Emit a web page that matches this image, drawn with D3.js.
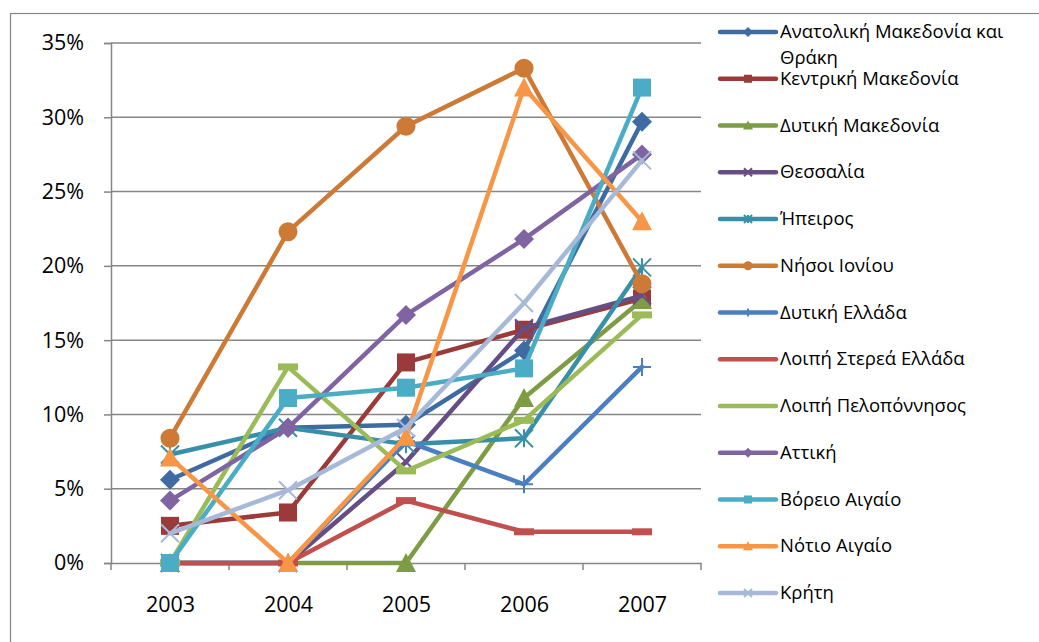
<!DOCTYPE html>
<html><head><meta charset="utf-8">
<script src="https://cdn.jsdelivr.net/npm/d3@7"></script>
<style>
body{margin:0;background:#fff;}
svg{display:block;font-family:"Open Sans","Liberation Sans",sans-serif;}
</style></head>
<body><svg id="c" width="1039" height="642"></svg>
<script>
const years = ["2003","2004","2005","2006","2007"];
const seriesNames = ["Ανατολική Μακεδονία και Θράκη","Κεντρική Μακεδονία","Δυτική Μακεδονία","Θεσσαλία","Ήπειρος","Νήσοι Ιονίου","Δυτική Ελλάδα","Λοιπή Στερεά Ελλάδα","Λοιπή Πελοπόννησος","Αττική","Βόρειο Αιγαίο","Νότιο Αιγαίο","Κρήτη"];
const amthValues = [0.056,0.091,0.093,0.143,0.297];
const kmakValues = [0.025,0.034,0.135,0.157,0.178];
const dmakValues = [0.0,0.0,0.0,0.111,0.177];
const thesValues = [0.0,0.0,0.068,0.158,0.180];
const ipeValues  = [0.073,0.091,0.080,0.084,0.199];
const ionValues  = [0.084,0.223,0.294,0.333,0.188];
const delValues  = [0.0,0.0,0.082,0.053,0.132];
const lstValues  = [0.0,0.0,0.042,0.021,0.021];
const lpelValues = [0.0,0.132,0.062,0.096,0.167];
const attValues  = [0.042,0.091,0.167,0.218,0.275];
const vaiValues  = [0.0,0.111,0.118,0.131,0.320];
const naiValues  = [0.071,0.0,0.085,0.320,0.230];
const kriValues  = [0.020,0.049,0.091,0.175,0.271];
const yTicks = [0,0.05,0.10,0.15,0.20,0.25,0.30,0.35];

const allValues = [amthValues,kmakValues,dmakValues,thesValues,ipeValues,ionValues,delValues,lstValues,lpelValues,attValues,vaiValues,naiValues,kriValues];
const colors = ["#3D6BA2","#9B3B39","#7E9C43","#664E84","#3790A7","#CC7A36","#4A7FC1","#C0504D","#9BBB59","#8064A2","#4BACC6","#F79646","#A7B9D8"];
const markers = ["diamond","square","triangle","x","star","circle","plus","dash","dash","diamond","square","triangle","x"];

const svg = d3.select("#c");
svg.append("rect").attr("x",10.5).attr("y",13.5).attr("width",1040).attr("height",640)
  .attr("fill","none").attr("stroke","#868686").attr("stroke-width",1.2);

const pL=111,pR=701,pT=43,pB=563;
const xb = d3.scaleBand().domain(years).range([pL,pR]).paddingInner(0).paddingOuter(0);
const x = d3.scalePoint().domain(years).range([pL,pR]).padding(0.5);
const y = d3.scaleLinear().domain([0,0.35]).range([pB,pT]);

svg.append("g").selectAll("line").data(yTicks.slice(1)).join("line")
  .attr("x1",pL).attr("x2",pR).attr("y1",d=>y(d)).attr("y2",d=>y(d))
  .attr("stroke","#868686").attr("stroke-width",1.5);

const ya = svg.append("g").attr("transform",`translate(${pL},0)`)
  .call(d3.axisLeft(y).tickValues(yTicks).tickFormat(d3.format(".0%")).tickSize(7).tickPadding(20));
ya.select(".domain").attr("stroke","#868686").attr("stroke-width",1.5);
ya.selectAll(".tick line").attr("stroke","#868686").attr("stroke-width",1.5);
ya.selectAll("text").attr("font-size",21.5).attr("fill","#000").attr("font-family","Open Sans, sans-serif");

const xa = svg.append("g").attr("transform",`translate(0,${pB})`)
  .call(d3.axisBottom(x).tickSize(0).tickPadding(34));
xa.select(".domain").attr("stroke","#868686").attr("stroke-width",1.5);
xa.selectAll("text").attr("font-size",21.5).attr("fill","#000").attr("font-family","Open Sans, sans-serif");
const bounds = years.map(d=>xb(d)).concat([xb(years[years.length-1])+xb.bandwidth()]);
svg.append("g").selectAll("line").data(bounds).join("line")
  .attr("x1",d=>d).attr("x2",d=>d).attr("y1",pB).attr("y2",pB+7)
  .attr("stroke","#868686").attr("stroke-width",1.5);

function marker(g, type, cx, cy, s, color){
  const h=s/2;
  if(type==="diamond"){
    g.append("path").attr("d",`M${cx},${cy-h-1}L${cx+h+1},${cy}L${cx},${cy+h+1}L${cx-h-1},${cy}Z`).attr("fill",color);
  } else if(type==="square"){
    g.append("rect").attr("x",cx-h).attr("y",cy-h).attr("width",s).attr("height",s).attr("fill",color);
  } else if(type==="triangle"){
    g.append("path").attr("d",`M${cx},${cy-h-1}L${cx+h+1},${cy+h}L${cx-h-1},${cy+h}Z`).attr("fill",color);
  } else if(type==="circle"){
    g.append("circle").attr("cx",cx).attr("cy",cy).attr("r",h+0.5).attr("fill",color);
  } else if(type==="x"){
    g.append("path").attr("d",`M${cx-h},${cy-h}L${cx+h},${cy+h}M${cx-h},${cy+h}L${cx+h},${cy-h}`).attr("stroke",color).attr("stroke-width",2);
  } else if(type==="star"){
    g.append("path").attr("d",`M${cx-h},${cy-h}L${cx+h},${cy+h}M${cx-h},${cy+h}L${cx+h},${cy-h}M${cx},${cy-h}L${cx},${cy+h}`).attr("stroke",color).attr("stroke-width",2);
  } else if(type==="plus"){
    g.append("path").attr("d",`M${cx-h},${cy}L${cx+h},${cy}M${cx},${cy-h}L${cx},${cy+h}`).attr("stroke",color).attr("stroke-width",2);
  } else if(type==="dash"){
    g.append("rect").attr("x",cx-h-1).attr("y",cy-3.5).attr("width",s+2).attr("height",7).attr("fill",color);
  }
}

const line = d3.line().x((d,i)=>x(years[i])).y(d=>y(d));
allValues.forEach((vals,si)=>{
  const g = svg.append("g");
  g.append("path").datum(vals).attr("d",line).attr("fill","none")
    .attr("stroke",colors[si]).attr("stroke-width",4.5).attr("stroke-linejoin","round").attr("stroke-linecap","round");
  vals.forEach((v,i)=>marker(g, markers[si], x(years[i]), y(v), 18, colors[si]));
});

const lg = svg.append("g");
const lx0=720, lx1=776, tx=780, ly0=32, lstep=46.75, maxW=240;
seriesNames.forEach((name,si)=>{
  const cy = ly0 + si*lstep;
  const g = lg.append("g");
  g.append("line").attr("x1",lx0).attr("x2",lx1).attr("y1",cy).attr("y2",cy)
    .attr("stroke",colors[si]).attr("stroke-width",4.5).attr("stroke-linecap","round");
  if(markers[si]!=="dash") marker(g, markers[si], (lx0+lx1)/2, cy, 8, colors[si]);
  const t = g.append("text").attr("x",tx).attr("y",cy+6).attr("font-size",18.5).attr("fill","#000")
    .attr("font-family","Open Sans, sans-serif");
  const words = name.split(" ");
  let ts = t.append("tspan").attr("x",tx);
  let lineWords=[];
  words.forEach(w=>{
    lineWords.push(w);
    ts.text(lineWords.join(" "));
    if(ts.node().getComputedTextLength()>maxW && lineWords.length>1){
      lineWords.pop();
      ts.text(lineWords.join(" "));
      lineWords=[w];
      ts = t.append("tspan").attr("x",tx).attr("dy",26).text(w);
    }
  });
});
</script></body></html>
